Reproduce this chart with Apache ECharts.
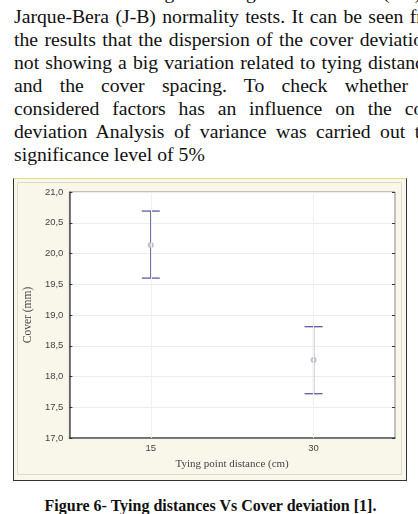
<!DOCTYPE html>
<html>
<head>
<meta charset="utf-8">
<script src="https://cdn.jsdelivr.net/npm/echarts@6/dist/echarts.min.js"></script>
<style>
  html, body { margin: 0; padding: 0; }
  body { width: 418px; height: 514px; overflow: hidden; background: #fff; position: relative; }
  .para { position: absolute; left: 14px; top: -18.6px; font: 19.7px "Liberation Serif", "Times New Roman", serif; line-height: 23.1px; color: #111; }
  .para div { white-space: nowrap; }
  #frame { position: absolute; left: 13px; top: 178px; width: 392px; height: 301px;
    border: 1.5px solid #333; border-top: 1.5px solid #e4dc82; background: #f9f7ea; }
  #chart { width: 392px; height: 301px; }
  .caption { position: absolute; left: 0; width: 421px; top: 497px; line-height: 20px; text-align: center;
    font: bold 16px "Liberation Serif", "Times New Roman", serif; color: #111; }
</style>
</head>
<body>
<div class="para">
  <div data-x="383">were found using Kolmogorov-Smirnov <span class="a">(KS)</span> and</div>
  <div data-x="409.7">Jarque-Bera (J-B) normality tests. It can be seen <span class="a">from</span></div>
  <div data-x="359.7">the results that the dispersion of the cover <span class="a">deviation</span> is</div>
  <div data-x="368">not showing a big variation related to tying <span class="a">distance</span> and</div>
  <div data-x="344.7">and the cover spacing. To check <span class="a">whether</span> the</div>
  <div data-x="404.7">considered factors has an influence on the <span class="a">cover</span></div>
  <div data-x="414.7">deviation Analysis of variance was carried out <span class="a">taking</span> a</div>
  <div>significance level of 5%</div>
</div>
<div id="frame"><div id="chart"></div></div>
<div class="caption">Figure 6- Tying distances Vs Cover deviation [1].</div>
<script>
// 两端对齐：按锚点单词位置调整词距
document.querySelectorAll('.para div[data-x]').forEach(function (line) {
  const a = line.querySelector('.a');
  const before = a.previousSibling.textContent;
  const gaps = (before.match(/ /g) || []).length;
  const x0 = a.getBoundingClientRect().left;
  const target = parseFloat(line.dataset.x);
  line.style.wordSpacing = ((target - x0) / gaps) + 'px';
});

// 数据
const distances = ['15', '30'];
const meanCover = [20.14, 18.27];
const upperCover = [20.69, 18.81];
const lowerCover = [19.60, 17.72];
const yTicks = [17, 21, 0.5];

const chart = echarts.init(document.getElementById('chart'));
const barColor = '#5c5ca6';

const option = {
  backgroundColor: 'transparent',
  animation: false,
  graphic: [{
    type: 'rect',
    shape: { x: 3.5, y: 3.5, width: 384, height: 292 },
    style: { fill: 'none', stroke: '#dcdad0', lineWidth: 1 },
    z: -1
  }],
  grid: {
    show: true,
    left: 48,
    top: 13,
    right: 11,
    bottom: 42,
    backgroundColor: '#fff',
    borderColor: '#8a8a8a',
    borderWidth: 1
  },
  xAxis: [{
    type: 'category',
    data: distances,
    boundaryGap: true,
    name: 'Tying point distance (cm)',
    nameLocation: 'middle',
    nameGap: 21,
    nameTextStyle: { fontFamily: 'Liberation Serif', fontSize: 11, color: '#444' },
    axisLine: { lineStyle: { color: '#555', width: 1.5 } },
    axisTick: { show: true, alignWithLabel: true, inside: true, length: 3, lineStyle: { color: '#333' } },
    axisLabel: { fontFamily: 'Liberation Sans', fontSize: 9.5, color: '#444', margin: 5 },
    splitLine: { show: false }
  }, {
    type: 'category',
    data: distances,
    position: 'top',
    axisLine: { show: false },
    axisTick: { show: true, alignWithLabel: true, inside: true, length: 3, lineStyle: { color: '#333' } },
    axisLabel: { show: false }
  }],
  yAxis: [{
    type: 'value',
    min: yTicks[0],
    max: yTicks[1],
    interval: yTicks[2],
    name: 'Cover (mm)',
    nameLocation: 'middle',
    nameRotate: 90,
    nameGap: 30,
    nameTextStyle: { fontFamily: 'Liberation Serif', fontSize: 11.5, color: '#444' },
    axisLine: { show: true, lineStyle: { color: '#555', width: 1.5 } },
    axisTick: { show: true, inside: true, length: 3, lineStyle: { color: '#333' } },
    axisLabel: {
      fontFamily: 'Liberation Sans', fontSize: 9.5, color: '#444', margin: 6,
      formatter: v => v.toFixed(1).replace('.', ',')
    },
    splitLine: { lineStyle: { color: '#ececec', width: 1 } }
  }, {
    type: 'value',
    position: 'right',
    min: yTicks[0],
    max: yTicks[1],
    interval: yTicks[2],
    axisLine: { show: false },
    axisTick: { show: true, inside: true, length: 3, lineStyle: { color: '#333' } },
    axisLabel: { show: false },
    splitLine: { show: false }
  }],
  series: [{
    type: 'custom',
    data: distances.map((d, i) => [i, upperCover[i], lowerCover[i]]),
    renderItem: function (params, api) {
      const hi = api.coord([api.value(0), api.value(1)]);
      const lo = api.coord([api.value(0), api.value(2)]);
      const hw = 9;
      const st = { stroke: barColor, lineWidth: 1.3 };
      return {
        type: 'group',
        children: [
          { type: 'line', shape: { x1: hi[0], y1: hi[1], x2: lo[0], y2: lo[1] }, style: st },
          { type: 'line', shape: { x1: hi[0] - hw, y1: hi[1], x2: hi[0] + hw, y2: hi[1] }, style: st },
          { type: 'line', shape: { x1: lo[0] - hw, y1: lo[1], x2: lo[0] + hw, y2: lo[1] }, style: st }
        ]
      };
    },
    markLine: {
      silent: true,
      symbol: 'none',
      label: { show: false },
      lineStyle: { color: '#f0f0f0', type: 'solid', width: 1 },
      data: distances.map(d => ({ xAxis: d }))
    },
    z: 2
  }, {
    type: 'scatter',
    data: meanCover,
    symbol: 'emptyCircle',
    symbolSize: 4,
    itemStyle: { color: '#b0b0b8', borderWidth: 1 },
    z: 3
  }]
};

chart.setOption(option);
</script>
</body>
</html>
